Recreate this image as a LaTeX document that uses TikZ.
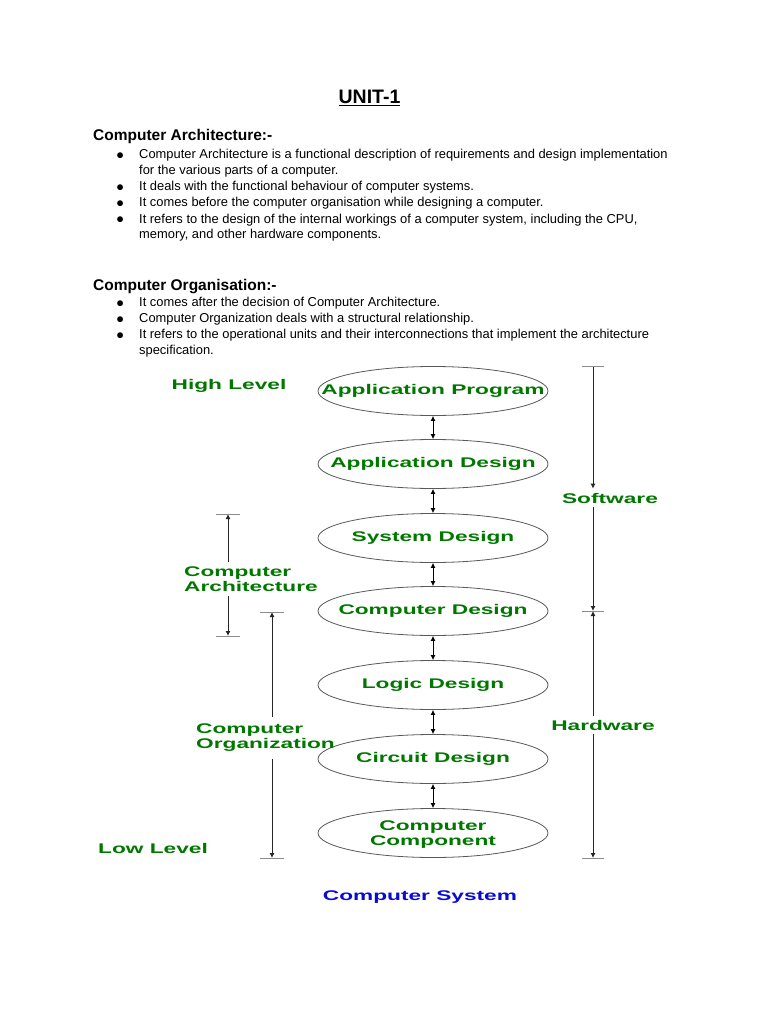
\documentclass[tikz,border=0pt]{standalone}
\usepackage{fontspec}
\setmainfont{Liberation Sans}
\newfontfamily\diagfont{Liberation Sans}[FakeStretch=1.62]
\usepackage{tikz}
\usetikzlibrary{calc}
\usetikzlibrary{arrows.meta}
\usetikzlibrary{shapes.geometric}
\definecolor{diaggreen}{RGB}{0,120,0}
\definecolor{sysblue}{RGB}{10,10,215}
\newcommand*\lyr[1]{\makebox[0pt]{#1}}
\tikzset{
  title/.style={anchor=base,inner sep=0pt,font=\bfseries\fontsize{19.5}{22}\selectfont},
  head/.style={anchor=base west,inner sep=0pt,font=\bfseries\fontsize{15.5}{18}\selectfont},
  body/.style={anchor=base west,inner sep=0pt,font=\fontsize{12.9}{16}\selectfont},
  dot/.style={anchor=base west,inner sep=0pt,font=\fontsize{13.5}{14}\selectfont},
  layer/.style={ellipse,draw=black!65,line width=0.8pt,minimum width=230pt,minimum height=49pt,
    inner sep=0pt,text=diaggreen,font=\diagfont\bfseries\fontsize{14}{15}\selectfont},
  tag/.style={inner xsep=0pt,inner ysep=4pt,align=left,text=diaggreen,
    font=\diagfont\bfseries\fontsize{14}{15}\selectfont},
  tip/.tip={Latex[length=5pt,width=5pt]},
  link/.style={tip-tip,black,line width=0.9pt},
  span/.style={black!85,line width=0.9pt},
  tick/.style={black!45,line width=1pt}
}

\begin{document}
\begin{tikzpicture}[x=1pt,y=-1pt]
\path [fill=white] (0,0) rectangle (768,1024);
% heading
\node (unit) [title] at (369.5,104) {\underline{UNIT-1}};
\node (ahead) [head] at (93,140.5) {Computer Architecture:-};
\node (ab1) [dot] at (116,160) {●};
\node (at1) [body] at (139,159) {Computer Architecture is a functional description of requirements and design implementation};
\node (at1b) [body] at (139,175) {for the various parts of a computer.};
\node (ab2) [dot] at (116,192) {●};
\node (at2) [body] at (139,191) {It deals with the functional behaviour of computer systems.};
\node (ab3) [dot] at (116,208) {●};
\node (at3) [body] at (139,207) {It comes before the computer organisation while designing a computer.};
\node (ab4) [dot] at (116,224) {●};
\node (at4) [body] at (139,223) {It refers to the design of the internal workings of a computer system, including the CPU,};
\node (at4b) [body] at (139,239) {memory, and other hardware components.};
%
\node (ohead) [head] at (93,290.5) {Computer Organisation:-};
\node (ob1) [dot] at (116,307) {●};
\node (ot1) [body] at (139,306) {It comes after the decision of Computer Architecture.};
\node (ob2) [dot] at (116,323) {●};
\node (ot2) [body] at (139,322) {Computer Organization deals with a structural relationship.};
\node (ob3) [dot] at (116,339) {●};
\node (ot3) [body] at (139,338) {It refers to the operational units and their interconnections that implement the architecture};
\node (ot3b) [body] at (139,354) {specification.};
% levels
\node (prog) [layer] at (433,391) {\lyr{Application Program}};
\node (appd) [layer] at (433,464) {\lyr{Application Design}};
\node (sysd) [layer] at (433,538) {\lyr{System Design}};
\node (comd) [layer] at (433,611) {\lyr{Computer Design}};
\node (logd) [layer] at (433,685) {\lyr{Logic Design}};
\node (cird) [layer] at (433,759) {\lyr{Circuit Design}};
\node (comp) [layer] at (433,833) {\lyr{\raisebox{-6pt}[0pt][0pt]{\begin{tabular}{@{}c@{}}Computer\\Component\end{tabular}}}};
\draw [link] (prog) -- (appd);
\draw [link] (appd) -- (sysd);
\draw [link] (sysd) -- (comd);
\draw [link] (comd) -- (logd);
\draw [link] (logd) -- (cird);
\draw [link] (cird) -- (comp);
% side labels
\node (high) [tag] at (229,386) {High Level};
\node (low) [tag] at (153,848) {Low Level};
\node (sw) [tag] at (610,498) {Software};
\node (hw) [tag] at (603,725) {Hardware};
\node (ca) [tag,anchor=west] at (184,579) {Computer\\Architecture};
\node (co) [tag,anchor=west,inner ysep=7pt] at (196,738) {Computer\\Organization};
\node (cs) [tag,text=sysblue] at (420,897) {Computer System};
% software / hardware
\coordinate (swtop) at (593,366);
\coordinate (swbot) at (593,611);
\coordinate (hwbot) at (593,858);
\draw [span,-tip] (swtop) -- (swtop |- sw.north);
\draw [span,-tip] (swtop |- sw.south) -- (swbot);
\draw [span,tip-] (swbot) -- (swbot |- hw.north);
\draw [span,-tip] (swbot |- hw.south) -- (hwbot);
\draw [tick] ([xshift=-11pt]swtop) -- ([xshift=11pt]swtop);
\draw [tick] ([xshift=-11pt]swbot) -- ([xshift=11pt]swbot);
\draw [tick] ([xshift=-11pt]hwbot) -- ([xshift=11pt]hwbot);
% architecture
\coordinate (catop) at (228,514);
\coordinate (cabot) at (228,636);
\draw [span,tip-] (catop) -- (catop |- ca.north);
\draw [span,-tip] (catop |- ca.south) -- (cabot);
\draw [tick] ([xshift=-12pt]catop) -- ([xshift=12pt]catop);
\draw [tick] ([xshift=-12pt]cabot) -- ([xshift=12pt]cabot);
% organization
\coordinate (cotop) at (272,612);
\coordinate (cobot) at (272,858);
\draw [span,tip-] (cotop) -- (cotop |- co.north);
\draw [span,-tip] (cotop |- co.south) -- (cobot);
\draw [tick] ([xshift=-12pt]cotop) -- ([xshift=12pt]cotop);
\draw [tick] ([xshift=-12pt]cobot) -- ([xshift=12pt]cobot);
\end{tikzpicture}
\end{document}
